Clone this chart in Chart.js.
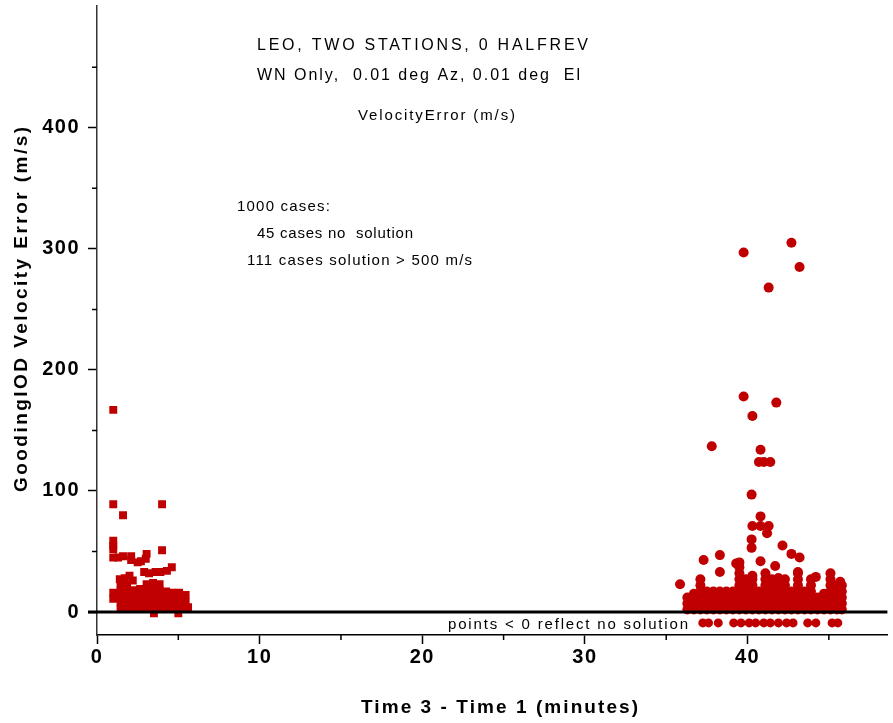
<!DOCTYPE html>
<html>
<head>
<meta charset="utf-8">
<script src="https://cdn.jsdelivr.net/npm/chart.js@4.4.1/dist/chart.umd.min.js"></script>
<style>
  html, body { margin: 0; padding: 0; background: #fff; }
  #wrap { width: 893px; height: 723px; }
</style>
</head>
<body>
<div id="wrap"><canvas id="chart" width="893" height="723"></canvas></div>
<script>
// axis ticks
const xMajorTicks = [0, 10, 20, 30, 40];
const xMinorTicks = [5, 15, 25, 35, 45];
const yMajorTicks = [0, 100, 200, 300, 400];
const yMinorTicks = [50, 150, 250, 350, 450];

// short arc cases (minutes, m/s)
const leftDense = [
  [1.0, 11], [1.0, 16],
  [1.45, 3], [1.45, 8], [1.45, 13], [1.45, 18], [1.45, 23],
  [1.85, 3], [1.85, 8], [1.85, 13], [1.85, 18], [1.85, 23],
  [2.25, 3], [2.25, 8], [2.25, 13], [2.25, 18],
  [2.65, 3], [2.65, 8], [2.65, 13], [2.65, 19],
  [3.05, 3], [3.05, 8], [3.05, 13], [3.05, 18], [3.05, 23],
  [3.45, 3], [3.45, 8], [3.45, 13], [3.45, 18], [3.45, 24],
  [3.85, 3], [3.85, 8], [3.85, 13], [3.85, 18], [3.85, 23],
  [4.25, 3], [4.25, 8], [4.25, 13], [4.25, 17],
  [4.65, 3], [4.65, 8], [4.65, 13], [4.65, 16],
  [5.05, 3], [5.05, 8], [5.05, 13], [5.05, 16],
  [5.45, 3], [5.45, 8], [5.45, 14],
  [5.6, 4]
];
const leftScatter = [
  [1.0, 167], [1.0, 89], [1.6, 80], [4.0, 89], [4.0, 51],
  [1.0, 59], [1.0, 55], [1.0, 52], [1.0, 45], [1.3, 45], [1.6, 46], [2.1, 46],
  [2.1, 43], [2.5, 41], [2.7, 42], [3.05, 48], [3.0, 44],
  [2.9, 33], [3.2, 32], [3.6, 33], [3.9, 33], [4.3, 34], [4.6, 37],
  [1.4, 27], [1.7, 28], [2.0, 30], [2.2, 26], [3.5, -1], [5.0, -1]
];

// long arc cases
const rightDense = [
  [36.3, 2], [36.3, 7], [36.3, 12],
  [36.7, 2], [36.7, 7], [36.7, 12], [36.7, 15],
  [37.1, 2], [37.1, 7], [37.1, 12], [37.1, 17], [37.1, 22], [37.1, 27],
  [37.5, 2], [37.5, 7], [37.5, 12], [37.5, 17],
  [37.9, 2], [37.9, 7], [37.9, 12], [37.9, 17],
  [38.3, 2], [38.3, 7], [38.3, 12], [38.3, 17],
  [38.7, 2], [38.7, 7], [38.7, 12], [38.7, 17],
  [39.1, 2], [39.1, 7], [39.1, 12], [39.1, 17],
  [39.5, 2], [39.5, 7], [39.5, 12], [39.5, 17], [39.5, 22], [39.5, 27], [39.5, 32], [39.5, 37], [39.5, 41],
  [39.9, 2], [39.9, 7], [39.9, 12], [39.9, 17], [39.9, 22], [39.9, 27],
  [40.3, 2], [40.3, 7], [40.3, 12], [40.3, 17], [40.3, 22], [40.3, 27], [40.3, 30],
  [40.7, 2], [40.7, 7], [40.7, 12], [40.7, 17],
  [41.1, 2], [41.1, 7], [41.1, 12], [41.1, 17], [41.1, 22], [41.1, 27], [41.1, 32],
  [41.5, 2], [41.5, 7], [41.5, 12], [41.5, 17], [41.5, 22], [41.5, 27],
  [41.9, 2], [41.9, 7], [41.9, 12], [41.9, 17], [41.9, 22], [41.9, 28],
  [42.3, 2], [42.3, 7], [42.3, 12], [42.3, 17], [42.3, 22], [42.3, 27],
  [42.7, 2], [42.7, 7], [42.7, 12], [42.7, 17],
  [43.1, 2], [43.1, 7], [43.1, 12], [43.1, 17], [43.1, 22], [43.1, 27], [43.1, 32],
  [43.5, 2], [43.5, 7], [43.5, 12], [43.5, 17],
  [43.9, 2], [43.9, 7], [43.9, 12], [43.9, 17], [43.9, 22], [43.9, 27],
  [44.3, 2], [44.3, 7], [44.3, 12],
  [44.7, 2], [44.7, 7], [44.7, 12], [44.7, 15],
  [45.1, 2], [45.1, 7], [45.1, 12], [45.1, 17], [45.1, 22], [45.1, 27], [45.1, 32],
  [45.5, 2], [45.5, 7], [45.5, 12], [45.5, 17], [45.5, 22],
  [45.8, 2], [45.8, 7], [45.8, 12], [45.8, 17], [45.8, 22]
];
const rightScatter = [
  [35.85, 23], [37.3, 43], [38.3, 47], [38.3, 33], [39.3, 40], [40.8, 42], [41.7, 38],
  [42.15, 55], [42.7, 48], [43.2, 45], [40.25, 60], [40.25, 53], [40.8, 79],
  [40.3, 71], [40.8, 71], [41.3, 71], [41.2, 65], [40.25, 97],
  [40.7, 124], [41.0, 124], [41.4, 124], [40.8, 134], [37.8, 137],
  [40.3, 162], [39.76, 178], [41.77, 173],
  [39.76, 297], [42.7, 305], [43.2, 285], [41.3, 268],
  [44.2, 29], [45.7, 25], [43.1, 33]
];
// no solution cases plotted below zero
const noSolution = [
  [37.25, -9], [37.6, -9], [38.2, -9],
  [39.15, -9], [39.6, -9], [40.1, -9], [40.5, -9], [41.0, -9], [41.4, -9], [41.9, -9], [42.4, -9], [42.8, -9],
  [43.7, -9], [44.2, -9], [45.2, -9], [45.55, -9]
];

const RED = 'rgb(192, 0, 0)';
const FONT = '"Liberation Sans", Arial, Helvetica, sans-serif';
const toXY = arr => arr.map(([x, y]) => ({ x, y }));

// draw text stretched to a given width
function fitText(ctx, text, left, baseline, width) {
  ctx.letterSpacing = '0px';
  const w = ctx.measureText(text).width;
  const s = (width - w) / Math.max(text.length - 1, 1);
  ctx.letterSpacing = s + 'px';
  ctx.textAlign = 'left';
  ctx.fillText(text, left, baseline);
  ctx.letterSpacing = '0px';
}

const extras = {
  id: 'extras',
  beforeDraw(chart) {
    chart.ctx.letterSpacing = '1.5px';
  },
  afterDatasetsDraw(chart) {
    const { ctx, chartArea, scales: { x, y } } = chart;
    ctx.save();
    ctx.strokeStyle = '#000';
    // zero line
    const y0 = y.getPixelForValue(0);
    ctx.lineWidth = 3;
    ctx.beginPath();
    ctx.moveTo(chartArea.left - 9, y0);
    ctx.lineTo(chartArea.right, y0);
    ctx.stroke();
    // minor ticks
    ctx.lineWidth = 1.5;
    ctx.beginPath();
    yMinorTicks.forEach(v => {
      const p = y.getPixelForValue(v);
      ctx.moveTo(chartArea.left - 5, p);
      ctx.lineTo(chartArea.left, p);
    });
    xMinorTicks.forEach(v => {
      const p = x.getPixelForValue(v);
      ctx.moveTo(p, chartArea.bottom);
      ctx.lineTo(p, chartArea.bottom + 5);
    });
    ctx.stroke();
    ctx.restore();
  },
  afterDraw(chart) {
    const ctx = chart.ctx;
    ctx.save();
    ctx.fillStyle = '#000';
    ctx.textBaseline = 'alphabetic';

    ctx.font = '16px ' + FONT;
    fitText(ctx, 'LEO, TWO STATIONS, 0 HALFREV', 257, 50, 331);
    fitText(ctx, 'WN Only,  0.01 deg Az, 0.01 deg  El', 257, 80, 323);
    ctx.font = '15px ' + FONT;
    fitText(ctx, 'VelocityError (m/s)', 358, 120, 157);

    ctx.font = '15px ' + FONT;
    fitText(ctx, '1000 cases:', 237, 211, 93);
    fitText(ctx, '45 cases no  solution', 257, 238, 156);
    fitText(ctx, '111 cases solution > 500 m/s', 247, 265, 225);
    fitText(ctx, 'points < 0 reflect no solution', 448, 629, 240);

    // axis titles
    ctx.font = 'bold 19px ' + FONT;
    fitText(ctx, 'Time 3 - Time 1 (minutes)', 361, 713, 277);
    ctx.translate(22, 310);
    ctx.rotate(-Math.PI / 2);
    ctx.textBaseline = 'middle';
    fitText(ctx, 'GoodingIOD Velocity Error (m/s)', -182, 0, 365);
    ctx.restore();
  }
};

const tickFont = { family: FONT, size: 20, weight: 'bold' };

new Chart(document.getElementById('chart'), {
  type: 'scatter',
  data: {
    datasets: [
      {
        data: toXY(leftDense.concat(leftScatter)),
        pointStyle: 'rect', pointRadius: 5.6, borderWidth: 0,
        backgroundColor: RED
      },
      {
        data: toXY(rightDense.concat(rightScatter)),
        pointStyle: 'circle', pointRadius: 5, borderWidth: 0,
        backgroundColor: RED
      },
      {
        data: toXY(noSolution),
        pointStyle: 'circle', pointRadius: 4.5, borderWidth: 0,
        backgroundColor: RED
      }
    ]
  },
  options: {
    responsive: false,
    devicePixelRatio: 1,
    animation: false,
    layout: { padding: 0 },
    plugins: { legend: { display: false }, tooltip: { enabled: false } },
    scales: {
      x: {
        type: 'linear', min: 0, max: 48.6,
        afterBuildTicks: s => { s.ticks = xMajorTicks.map(v => ({ value: v })); },
        afterFit: s => { s.height = 88; s.paddingLeft = 0; s.paddingRight = 0; },
        grid: { drawOnChartArea: false, tickLength: 9, tickColor: '#000', tickWidth: 1.5 },
        border: { color: '#000', width: 1.5 },
        ticks: { font: tickFont, color: '#000', padding: 1, maxRotation: 0, autoSkip: false }
      },
      y: {
        type: 'linear', min: -19, max: 501,
        afterBuildTicks: s => { s.ticks = yMajorTicks.map(v => ({ value: v })); },
        afterFit: s => { s.width = 97; s.paddingTop = 0; s.paddingBottom = 0; },
        grid: { drawOnChartArea: false, tickLength: 9, tickColor: '#000', tickWidth: 1.5 },
        border: { color: '#333', width: 1.5 },
        ticks: { font: tickFont, color: '#000', padding: 8, autoSkip: false }
      }
    }
  },
  plugins: [extras]
});
</script>
</body>
</html>
